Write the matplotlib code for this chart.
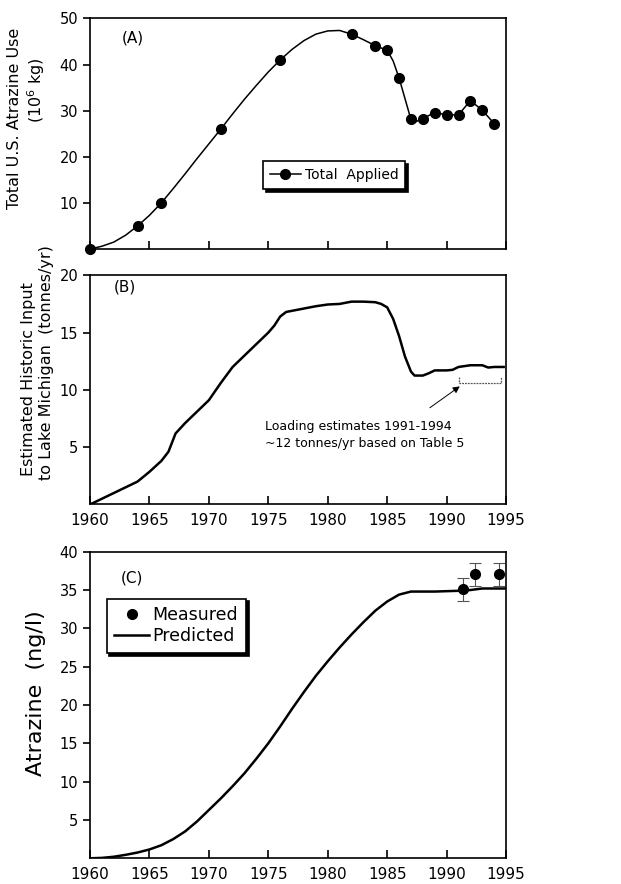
import matplotlib
matplotlib.use('Agg')
import matplotlib.pyplot as plt

# ---- data ----
# (A) total U.S. atrazine use, 10^6 kg (markers)
use_years = [1960, 1964, 1966, 1971, 1976, 1982, 1984, 1985, 1986, 1987,
             1988, 1989, 1990, 1991, 1992, 1993, 1994]
use_vals = [0.0, 5.0, 10.0, 26.0, 41.0, 46.6, 44.1, 43.1, 37.1, 28.1,
            28.3, 29.6, 29.1, 29.1, 32.2, 30.1, 27.2]
# smoothed line drawn through the markers (as plotted in the source)
use_curve_years = [1960, 1961, 1962, 1963, 1964, 1965, 1966, 1967, 1968, 1969,
                   1970, 1971, 1972, 1973, 1974, 1975, 1976, 1977, 1978, 1979,
                   1980, 1981, 1982, 1983, 1984, 1985, 1985.5, 1986, 1987,
                   1987.4, 1988, 1989, 1990, 1991, 1992, 1993, 1994]
use_curve_vals = [0.0, 0.6, 1.5, 3.0, 5.0, 7.3, 10.0, 13.1, 16.3, 19.6,
                  22.8, 26.0, 29.3, 32.5, 35.5, 38.4, 41.0, 43.3, 45.2, 46.6,
                  47.3, 47.4, 46.6, 45.4, 44.1, 43.1, 40.8, 37.1, 28.1,
                  27.6, 28.3, 29.6, 29.1, 29.1, 32.2, 30.1, 27.2]

# (B) estimated historic input to Lake Michigan, tonnes/yr
inp_years = [1960, 1962, 1964, 1965, 1966, 1966.6, 1967.2, 1968, 1969, 1970,
             1971, 1972, 1973, 1974, 1975, 1975.5, 1976, 1976.5, 1977, 1978,
             1979, 1980, 1981, 1982, 1983, 1984, 1984.5, 1985, 1985.5, 1986,
             1986.5, 1987, 1987.3, 1988, 1988.5, 1989, 1990, 1990.5, 1991,
             1992, 1993, 1993.5, 1994, 1994.8]
inp_vals = [0.0, 1.0, 2.0, 2.85, 3.8, 4.6, 6.2, 7.1, 8.1, 9.1,
            10.6, 12.0, 13.0, 14.0, 15.0, 15.6, 16.4, 16.8, 16.9, 17.1,
            17.3, 17.45, 17.5, 17.7, 17.7, 17.65, 17.5, 17.2, 16.2, 14.7,
            12.9, 11.6, 11.25, 11.25, 11.45, 11.7, 11.7, 11.75, 12.0,
            12.15, 12.15, 11.95, 12.0, 12.0]
loading_span = [1991.05, 1994.6]
loading_level = 10.6

# (C) atrazine concentration, ng/l
pred_years = [1960, 1961, 1962, 1963, 1964, 1965, 1966, 1967, 1968, 1969,
              1970, 1971, 1972, 1973, 1974, 1975, 1976, 1977, 1978, 1979,
              1980, 1981, 1982, 1983, 1984, 1985, 1986, 1987, 1988, 1989,
              1990, 1991, 1992, 1993, 1994, 1995]
pred_vals = [0.0, 0.05, 0.2, 0.45, 0.75, 1.15, 1.7, 2.5, 3.5, 4.8,
             6.3, 7.8, 9.4, 11.1, 13.0, 15.0, 17.2, 19.5, 21.7, 23.8,
             25.7, 27.5, 29.2, 30.8, 32.3, 33.5, 34.4, 34.8, 34.8, 34.8,
             34.85, 34.9, 35.0, 35.2, 35.2, 35.2]
meas_years = [1991.4, 1992.4, 1994.4]
meas_vals = [35.1, 37.05, 37.05]
meas_err = [1.5, 1.5, 1.5]

year_ticks = [1960, 1965, 1970, 1975, 1980, 1985, 1990, 1995]

plt.rcParams['font.family'] = 'DejaVu Sans'

W, H = 621, 884
fig = plt.figure(figsize=(W / 100, H / 100), dpi=100)
axA = fig.add_axes([0.1449, 0.7183, 0.670, 0.2608])
axB = fig.add_axes([0.1449, 0.4293, 0.670, 0.2593])
axC = fig.add_axes([0.1449, 0.0291, 0.670, 0.3468])


def style(ax, yticks, labels_x=True):
    ax.set_xlim(1960, 1995)
    ax.set_xticks(year_ticks)
    ax.set_yticks(yticks)
    ax.tick_params(axis='x', direction='in', length=6, width=1.2,
                   labelsize=11, pad=6, labelbottom=labels_x)
    ax.tick_params(axis='y', direction='out', length=5, width=1.2,
                   labelsize=10.5)
    for s in ax.spines.values():
        s.set_linewidth(1.2)


def vlabel(text, px, py, size):
    # rotated axis-title line placed at pixel centre (px, py)
    fig.text(px / W, 1 - py / H, text, rotation=90, ha='center', va='center',
             fontsize=size)


def boxed(leg):
    leg.get_frame().set_edgecolor('black')
    leg.get_frame().set_linewidth(1.2)


# ---- panel A ----
axA.plot(use_curve_years, use_curve_vals, color='black', lw=1.1)
axA.plot(use_years, use_vals, 'o', color='black', ms=7, clip_on=False)
hA, = axA.plot([], [], '-o', color='black', lw=1.1, ms=7)
axA.set_ylim(0, 50)
style(axA, [10, 20, 30, 40, 50], labels_x=False)
axA.text(1963.6, 45.8, '(A)', fontsize=11, ha='center', va='center')
vlabel('Total U.S. Atrazine Use', 15, 118, 11.5)
vlabel('(10$^6$ kg)', 36, 90, 11.5)
legA = axA.legend([hA], ['Total  Applied'], loc='upper left',
                  bbox_to_anchor=(0.416, 0.382), fontsize=10, frameon=True,
                  fancybox=False, shadow={'color': 'black', 'alpha': 1},
                  handlelength=2.2, borderpad=0.5, handletextpad=0.3,
                  borderaxespad=0)
boxed(legA)

# ---- panel B ----
axB.plot(inp_years, inp_vals, color='black', lw=1.8)
axB.set_ylim(0, 20)
style(axB, [5, 10, 15, 20])
axB.text(1962.9, 18.95, '(B)', fontsize=11, ha='center', va='center')
vlabel('Estimated Historic Input', 29, 379, 11.5)
vlabel('to Lake Michigan  (tonnes/yr)', 47, 363, 11.5)
x0, x1 = loading_span
axB.plot([x0, x0, x1, x1],
         [loading_level + 0.55, loading_level, loading_level, loading_level + 0.55],
         color='#555555', lw=0.9, ls=(0, (1.5, 0.8)))
axB.annotate('', xy=(1991.3, 10.45), xytext=(1988.4, 8.3),
             arrowprops=dict(arrowstyle='-|>', color='black', lw=0.7,
                             mutation_scale=10))
axB.text(1974.7, 6.05, 'Loading estimates 1991-1994\n~12 tonnes/yr based on Table 5',
         fontsize=9, ha='left', va='center', linespacing=1.45)

# ---- panel C ----
hP, = axC.plot(pred_years, pred_vals, color='black', lw=1.8)
axC.errorbar(meas_years, meas_vals, yerr=meas_err, fmt='o', color='black',
             ms=7, ecolor='#555555', elinewidth=0.8, capsize=4, capthick=0.8,
             clip_on=False)
hM, = axC.plot([], [], 'o', color='black', ms=7)
axC.set_ylim(0, 40)
style(axC, [5, 10, 15, 20, 25, 30, 35, 40])
axC.text(1963.5, 36.6, '(C)', fontsize=11, ha='center', va='center')
vlabel('Atrazine  (ng/l)', 36, 693, 16)
legC = axC.legend([hM, hP], ['Measured', 'Predicted'], loc='upper left',
                  bbox_to_anchor=(0.04, 0.847), fontsize=12.5, frameon=True,
                  fancybox=False, shadow={'color': 'black', 'alpha': 1},
                  handlelength=2.0, borderpad=0.45, handletextpad=0.2,
                  labelspacing=0.15, borderaxespad=0)
boxed(legC)

fig.savefig('out.png', dpi=100)
